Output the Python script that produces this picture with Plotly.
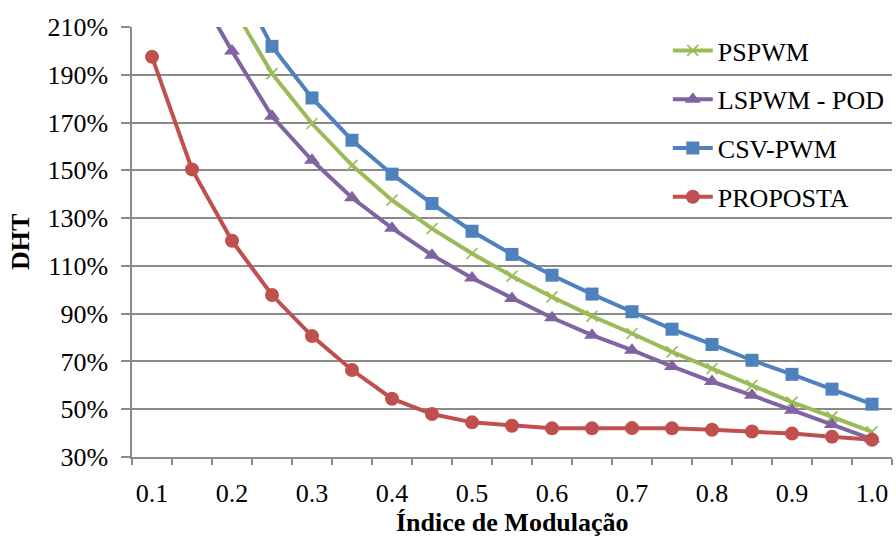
import plotly.graph_objects as go

categories = ["0.1", "0.15", "0.2", "0.25", "0.3", "0.35", "0.4", "0.45", "0.5", "0.55",
              "0.6", "0.65", "0.7", "0.75", "0.8", "0.85", "0.9", "0.95", "1.0"]
tick_labels = ["0.1", "", "0.2", "", "0.3", "", "0.4", "", "0.5", "",
               "0.6", "", "0.7", "", "0.8", "", "0.9", "", "1.0"]

pspwm = [320, 255, 219, 190.5, 169.6, 152.1, 137.5, 125.6, 115.2, 105.7,
         97.0, 89.0, 81.7, 74.0, 67.0, 60.0, 53.0, 46.8, 40.5]
lspwm_pod = [290, 229, 200, 172.6, 154.2, 138.5, 125.8, 114.5, 104.9, 96.4,
             88.3, 81.0, 74.7, 67.9, 61.6, 55.8, 49.6, 43.6, 37.5]
csv_pwm = [340, 280, 234, 201.9, 180.3, 162.6, 148.4, 136.1, 124.5, 114.8,
           106.1, 98.2, 90.8, 83.5, 77.1, 70.5, 64.6, 58.4, 52.1]
proposta = [197.5, 150.4, 120.5, 97.8, 80.6, 66.4, 54.4, 48.0, 44.5, 43.1,
            42.0, 42.0, 42.1, 42.0, 41.4, 40.7, 39.8, 38.5, 37.2]

y_ticks = [30, 50, 70, 90, 110, 130, 150, 170, 190, 210]

FONT = "Liberation Serif"
GRID = "#8a8a8a"
FS = 26

fig = go.Figure()

series = [
    ("PSPWM", pspwm, "#9BBB59", dict(symbol="x-thin", size=11, line=dict(width=1.6, color="#9BBB59"))),
    ("LSPWM - POD", lspwm_pod, "#8064A2", dict(symbol="triangle-up", size=14)),
    ("CSV-PWM", csv_pwm, "#4F81BD", dict(symbol="square", size=13)),
    ("PROPOSTA", proposta, "#C0504D", dict(symbol="circle", size=14)),
]

for i, (name, vals, color, mk) in enumerate(series):
    mk = dict(mk)
    mk["color"] = color
    fig.add_trace(go.Scatter(
        x=categories, y=vals, name=name, mode="lines+markers",
        line=dict(color=color, width=4),
        marker=mk, legendgroup=f"g{i}",
    ))

fig.update_layout(
    width=896, height=538,
    margin=dict(l=132, r=4, t=27, b=81, autoexpand=False),
    paper_bgcolor="white", plot_bgcolor="white",
    font=dict(family=FONT, size=FS, color="black"),
    showlegend=True,
    legend=dict(x=0.705, y=1.0, xanchor="left", yanchor="top",
                bgcolor="rgba(0,0,0,0)", font=dict(size=FS, family=FONT),
                tracegroupgap=12, itemwidth=40),
    xaxis=dict(
        type="category", categoryorder="array", categoryarray=categories,
        tickmode="array", tickvals=categories, ticktext=tick_labels,
        tickson="boundaries", ticks="outside", ticklen=6, tickcolor=GRID, tickwidth=1.5,
        showline=True, linecolor=GRID, linewidth=1.5, showgrid=False,
        range=[-0.5, 18.5], tickfont=dict(size=FS, family=FONT),
        tickangle=0, ticklabelstandoff=12, automargin=False,
    ),
    yaxis=dict(
        range=[30, 210], tickmode="array", tickvals=y_ticks,
        ticktext=[f"{v}%" for v in y_ticks],
        ticks="outside", ticklen=9, tickcolor=GRID, tickwidth=1.5,
        showline=True, linecolor=GRID, linewidth=1.5,
        showgrid=True, gridcolor=GRID, gridwidth=1.5,
        zeroline=False, tickfont=dict(size=FS, family=FONT),
        ticklabelstandoff=8, automargin=False,
    ),
    annotations=[
        dict(text="<b>Índice de Modulação</b>", xref="paper", yref="paper",
             x=0.5, y=0, yshift=-65, xanchor="center", yanchor="middle",
             showarrow=False, font=dict(size=FS, family=FONT)),
        dict(text="<b>DHT</b>", xref="paper", yref="paper",
             x=0, y=0.5, xshift=-112, xanchor="center", yanchor="middle",
             textangle=-90, showarrow=False, font=dict(size=FS, family=FONT)),
    ],
)

fig.write_html("out.html", config={"displayModeBar": False},
               post_script="document.body.style.margin='0';document.body.style.padding='0';")
